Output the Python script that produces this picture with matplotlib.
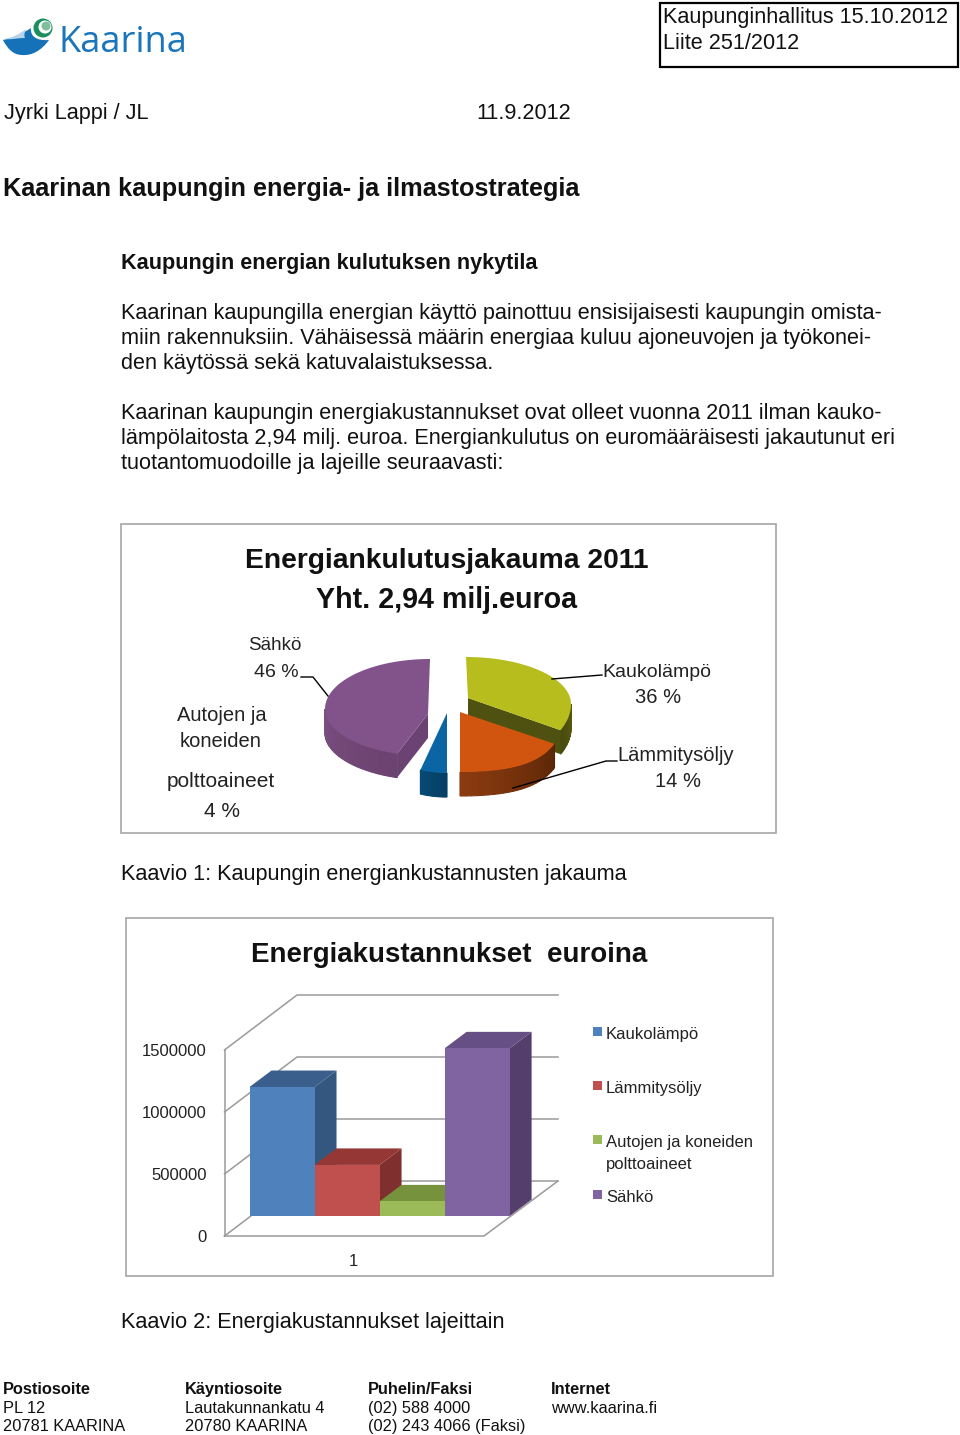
"""Kaarina energy strategy page: text, 3D style pie and 3D style bars."""

import numpy as np
import matplotlib
matplotlib.use("Agg")
import matplotlib.pyplot as plt
from matplotlib.patches import Circle, PathPatch, Polygon, Rectangle
from matplotlib.path import Path

plt.rcParams['font.family'] = ['Liberation Sans', 'DejaVu Sans']

W, H = 960, 1435

# data
pie_names = ['Kaukolämpö', 'Lämmitysöljy', 'Autojen ja koneiden polttoaineet', 'Sähkö']
pie_shares = [36, 14, 4, 46]
bar_names = ['Kaukolämpö', 'Lämmitysöljy', 'Autojen ja koneiden\npolttoaineet', 'Sähkö']
bar_values = [1040000, 412000, 118000, 1352000]
bar_ticks = [0, 500000, 1000000, 1500000]
bar_category = ['1']

# colours, same order as the data
pie_top = ['#b6bd1c', '#d2550f', '#0b65a5', '#82528a']
pie_cut = ['#4e5110', '#7a3009', '#07466f', '#6a4372']
pie_wall_a = ['#5a5c10', '#5a2607', '#053e64', '#6b4270']
pie_wall_b = ['#4a4c0d', '#8a3a0f', '#074a75', '#7b4f80']

# fake perspective of each slice: ellipse centre, apex, radii
pie_centers = [(466, 704), (460, 712), (447, 713), (430, 709)]
pie_apex = [(468, 698), (460, 712), (447, 713), (428, 714)]
pie_a = [105, 105, 85, 105]
pie_b_up = [47, 42, 42, 50]
pie_b_down = [60, 60, 60, 47]
pie_b_extra = [0, 16, 0, 0]

bar_front = ['#4f81bd', '#c0504d', '#9bbb59', '#8064a2']
bar_top = ['#3a5f8c', '#953735', '#76923c', '#664f85']
bar_side = ['#34577f', '#7f302e', '#6b8536', '#533e6c']

fig = plt.figure(figsize=(W / 100, H / 100), dpi=100, facecolor='white')
page = fig.add_axes([0, 0, 1, 1], zorder=0)
page.set_xlim(0, W)
page.set_ylim(H, 0)
page.axis('off')


def px_axes(x0, y_bottom, x1, y_top, zorder):
    """Axes placed by page pixels, transparent and without frame."""
    ax = fig.add_axes([x0 / W, 1 - y_bottom / H, (x1 - x0) / W, (y_bottom - y_top) / H],
                      zorder=zorder)
    ax.patch.set_alpha(0)
    for s in ax.spines.values():
        s.set_visible(False)
    return ax


def put(x, y, s, size=15.6, **kw):
    kw.setdefault('color', '#111111')
    page.text(x, y, s, fontsize=size, va='baseline', **kw)


def curve(points, **kw):
    """Closed shape from a start point and cubic bezier triples."""
    codes = [Path.MOVETO] + [Path.CURVE4] * (len(points) - 1)
    page.add_patch(PathPatch(Path(points, codes), ec='none', **kw))


# logo
curve([(3, 40), (12, 38), (22, 34), (31, 28),
       (30, 36), (36, 41), (49, 40),
       (42, 50), (32, 56), (22, 55),
       (13, 55), (7, 48), (3, 40)], fc='#1672b8')
curve([(4, 39), (12, 38), (20, 34), (26, 29),
       (24, 34), (24, 36), (25, 38),
       (18, 38), (10, 40), (4, 39)], fc='#b7d4ea')
page.add_patch(Circle((43, 28), 9.5, fc='#1b8f5e', ec='none'))
page.add_patch(Circle((45, 27), 6.5, fc='white', ec='none'))
page.add_patch(Circle((46, 26), 4.5, fc='#7fbf9c', ec='none'))
page.text(59, 52, 'Kaarina', fontsize=26.1, family=['Open Sans', 'DejaVu Sans'],
          color='#1a75bb', va='baseline')

# header
page.add_patch(Rectangle((660, 3), 298, 64, fc='none', ec='black', lw=1.6))
put(663, 23, 'Kaupunginhallitus 15.10.2012')
put(663, 49, 'Liite 251/2012')
put(4, 119, 'Jyrki Lappi / JL')
put(476, 119, '11.9.2012')
put(3, 196, 'Kaarinan kaupungin energia- ja ilmastostrategia', size=18.15, weight='bold')
put(121, 269, 'Kaupungin energian kulutuksen nykytila', size=15.6, weight='bold')

body_lines = [
    (319, 'Kaarinan kaupungilla energian käyttö painottuu ensisijaisesti kaupungin omista-'),
    (344, 'miin rakennuksiin. Vähäisessä määrin energiaa kuluu ajoneuvojen ja työkonei-'),
    (369, 'den käytössä sekä katuvalaistuksessa.'),
    (419, 'Kaarinan kaupungin energiakustannukset ovat olleet vuonna 2011 ilman kauko-'),
    (444, 'lämpölaitosta 2,94 milj. euroa. Energiankulutus on euromääräisesti jakautunut eri'),
    (469, 'tuotantomuodoille ja lajeille seuraavasti:'),
]
for y, line in body_lines:
    put(121, y, line)

put(121, 880, 'Kaavio 1: Kaupungin energiankustannusten jakauma')
put(121, 1328, 'Kaavio 2: Energiakustannukset lajeittain')

# footer
foot_x = [3, 185, 368, 551]
foot_head = ['Postiosoite', 'Käyntiosoite', 'Puhelin/Faksi', 'Internet']
foot_1 = ['PL 12', 'Lautakunnankatu 4', '(02) 588 4000', 'www.kaarina.fi']
foot_2 = ['20781 KAARINA', '20780 KAARINA', '(02) 243 4066 (Faksi)', '']
for x, a, b, c in zip(foot_x, foot_head, foot_1, foot_2):
    put(x, 1394, a, size=11.8, weight='bold')
    put(x, 1413, b, size=11.8)
    put(x, 1431, c, size=11.8)

# chart 1, exploded 3D look pie
page.add_patch(Rectangle((120.5, 523.5), 655, 309.5, fc='white', ec='#a6a6a6', lw=1.2))
put(447, 568, 'Energiankulutusjakauma 2011', size=20.3, weight='bold', ha='center')
put(447, 608, 'Yht. 2,94 milj.euroa', size=20.6, weight='bold', ha='center')

DEPTH = 24


def warp(theta):
    """Bend the angle a little, the front of the pie looks stretched."""
    theta = np.asarray(theta, dtype=float)
    k = np.where(theta < np.pi, np.radians(14), np.radians(8))
    lower = (theta > np.pi / 2) & (theta < 3 * np.pi / 2)
    return np.where(lower, theta + k * np.sin(2 * theta), theta)


def rim(theta, i):
    """Rim point of slice i, theta clockwise from twelve o'clock."""
    cx, cy = pie_centers[i]
    t = warp(theta)
    b = np.where(np.cos(t) > 0, pie_b_up[i], pie_b_down[i] + pie_b_extra[i] * np.sin(t) ** 2)
    return np.column_stack([cx + pie_a[i] * np.sin(t), cy - b * np.cos(t)])


def blend(c1, c2, t):
    c1, c2 = np.array(matplotlib.colors.to_rgb(c1)), np.array(matplotlib.colors.to_rgb(c2))
    return c1 + (c2 - c1) * t


edges = np.cumsum([0] + pie_shares) / sum(pie_shares) * 2 * np.pi
for i in [0, 3, 2, 1]:
    start, stop = edges[i], edges[i + 1]
    apex = np.array(pie_apex[i], dtype=float)
    drop = np.array([0, DEPTH])
    # outer wall where it faces the viewer
    lo, hi = max(start, np.pi / 2), min(stop, 3 * np.pi / 2)
    if hi > lo:
        steps = np.linspace(lo, hi, 25)
        for k in range(24):
            arc = rim(np.linspace(steps[k], steps[k + 1], 4), i)
            col = blend(pie_wall_a[i], pie_wall_b[i], k / 23)
            page.add_patch(Polygon(np.vstack([arc, arc[::-1] + drop]), closed=True,
                                   fc=col, ec=col, lw=0.8))
    # cut faces that look towards the viewer
    faces = []
    if np.cos(stop) < 0 and np.sin(stop) > 0.01:
        faces.append(stop)
    if np.cos(start) < 0 and np.sin(start) < -0.01:
        faces.append(start)
    for edge in faces:
        p = rim(np.array([edge]), i)[0]
        page.add_patch(Polygon([apex, p, p + drop, apex + drop], closed=True,
                               fc=pie_cut[i], ec='none'))
    # top
    arc = rim(np.linspace(start, stop, 80), i)
    page.add_patch(Polygon(np.vstack([apex, arc]), closed=True, fc=pie_top[i], ec='none'))

page.plot([301, 313, 328], [677, 677, 696], color='black', lw=1)
page.plot([552, 602], [679, 675], color='black', lw=1)
page.plot([617, 606, 513], [761, 761, 788], color='black', lw=1)

label = dict(ha='center', color='#222222')
put(275, 650, 'Sähkö', size=13.5, **label)
put(276, 677, f'{pie_shares[3]} %', size=14, **label)
put(657, 677, 'Kaukolämpö', size=14, **label)
put(658, 703, f'{pie_shares[0]} %', size=14.5, **label)
put(676, 761, 'Lämmitysöljy', size=14.5, **label)
put(678, 787, f'{pie_shares[1]} %', size=14.5, **label)
put(222, 721, 'Autojen ja', size=14.5, **label)
put(221, 747, 'koneiden', size=14.5, **label)
put(221, 787, 'polttoaineet', size=15, **label)
put(222, 817, f'{pie_shares[2]} %', size=15, **label)

# chart 2, 3D look bars
page.add_patch(Rectangle((126, 917.5), 647, 358.5, fc='white', ec='#a6a6a6', lw=1.2))
put(449, 962, 'Energiakustannukset  euroina', size=20, weight='bold', ha='center')

FRONT_L, FRONT_R, FRONT_Y0, FRONT_Y1 = 224.5, 484, 1236, 1050
WALL_DX, WALL_DY, WALL_R = 72.5, -55, 558
GRID = '#9a9a9a'

wall = px_axes(FRONT_L, FRONT_Y0, FRONT_R, FRONT_Y1, 1)
wall.set_xlim(0, 1)
wall.set_ylim(0, bar_ticks[-1])
wall.set_xticks([0.495], bar_category, fontsize=12, color='#222222')
wall.set_yticks(bar_ticks, [str(t) for t in bar_ticks], fontsize=12, color='#222222')
wall.tick_params(length=0)
wall.tick_params(axis='y', pad=13)
wall.tick_params(axis='x', pad=13)

per_value = (FRONT_Y0 - FRONT_Y1) / bar_ticks[-1]
for t in bar_ticks:
    y = FRONT_Y0 - t * per_value
    page.plot([FRONT_L, FRONT_L + WALL_DX, WALL_R], [y, y + WALL_DY, y + WALL_DY],
              color=GRID, lw=1.1, zorder=1)
page.plot([FRONT_L, FRONT_L], [FRONT_Y0, FRONT_Y1], color=GRID, lw=1.1, zorder=1)
page.plot([FRONT_L, FRONT_R, WALL_R], [FRONT_Y0, FRONT_Y0, FRONT_Y0 + WALL_DY],
          color=GRID, lw=1.1, zorder=1)

BAR_L, BAR_R, BAR_Y0 = 249.5, 509.6, 1216
bars = px_axes(BAR_L, BAR_Y0, BAR_R, BAR_Y0 - (FRONT_Y0 - FRONT_Y1), 2)
bars.axis('off')
bars.set_xlim(0, len(bar_values))
bars.set_ylim(0, bar_ticks[-1])
dx = 22 / ((BAR_R - BAR_L) / len(bar_values))
dy = 16.5 / per_value
for i in range(len(bar_values)):
    v = bar_values[i]
    # side and top faces are offset from the bar's front by the fake depth
    bars.fill([i + 1, i + 1 + dx, i + 1 + dx, i + 1], [0, dy, v + dy, v],
              color=bar_side[i], lw=0, clip_on=False)
    bars.fill([i, i + dx, i + 1 + dx, i + 1], [v, v + dy, v + dy, v],
              color=bar_top[i], lw=0, clip_on=False)
bars.bar(range(len(bar_values)), bar_values, width=1, align='edge', color=bar_front, lw=0)

legend_y = [1034, 1088, 1142, 1197]
for y, name, col in zip(legend_y, bar_names, bar_front):
    page.add_patch(Rectangle((593, y - 7), 9, 9, fc=col, ec='none'))
    page.text(606, y, name.split('\n')[0], fontsize=12, color='#222222', va='center')
page.text(606, 1164, bar_names[2].split('\n')[1], fontsize=12, color='#222222', va='center')

fig.savefig('out.png', dpi=100)
